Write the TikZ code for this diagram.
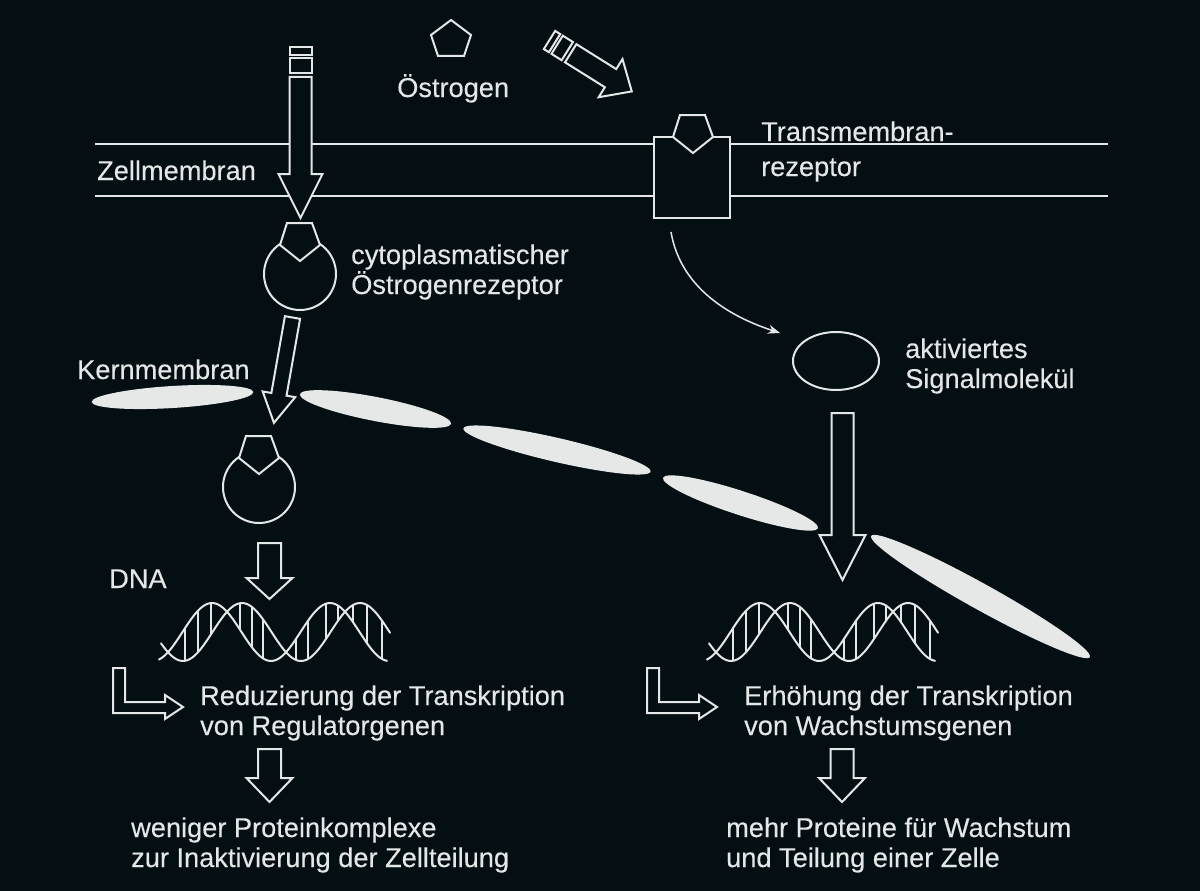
\documentclass[tikz,border=0pt]{standalone}
\usepackage{fontspec}
\setmainfont{Liberation Sans}[FakeBold=0.2]
\usetikzlibrary{shapes.geometric,arrows.meta}
\definecolor{ground}{HTML}{040F14}
\definecolor{ink}{HTML}{E4E7E7}
\definecolor{plate}{HTML}{E6E8E8}
\tikzset{
  outline/.style={draw=ink,line width=2pt,fill=ground,line join=miter},
  wire/.style={draw=ink,line width=2pt},
  label/.style={text=ink,inner sep=0pt,align=left,anchor=base west,font=\fontsize{27.2}{30}\selectfont},
  plateoval/.style={ellipse,fill=plate,inner sep=0pt},
  % length, half shaft width, half head width, head length
  pics/blockarrow/.style n args={4}{code={
    \path[outline] (0,-#2) -- (#1-#4,-#2) -- (#1-#4,-#3) -- (#1,0) -- (#1-#4,#3) -- (#1-#4,#2) -- (0,#2) -- cycle;
  }},
  % as above, plus the stops of two detached bands and the shaft's start
  pics/bandedarrow/.style n args={8}{code={
    \path[outline] (0,-#2) rectangle (#5,#2);
    \path[outline] (#6,-#2) rectangle (#7,#2);
    \path[outline] (#8,-#2) -- (#1-#4,-#2) -- (#1-#4,-#3) -- (#1,0) -- (#1-#4,#3) -- (#1-#4,#2) -- (#8,#2) -- cycle;
  }},
  pics/bentarrow/.style={code={
    \path[outline] (113,668) -- (125,668) -- (125,702) -- (165,702) -- (165,695) -- (183,707) -- (165,719) -- (165,713) -- (113,713) -- cycle;
  }},
  pics/receptorhead/.style={code={
    \path[outline] (-13,-38) -- (12,-38) -- (20,-16) -- (0,0) -- (-20,-16) -- cycle;
  }},
  pics/helix/.style={code={
    \draw[wire,line cap=round] plot[samples=90,domain=159:387] (\x,{632-29*cos(3.05*(\x-212))});
    \draw[wire,line cap=round] plot[samples=90,domain=161:390] (\x,{632-29*cos(3.05*(\x-242))});
    \foreach \b in {185,198,211,240,252,263,296,308,326,338,353,367,382}{
      \pgfmathsetmacro\ya{632-29*cos(3.05*(\b-212))}
      \pgfmathsetmacro\yb{632-29*cos(3.05*(\b-242))}
      \draw[ink,line width=1.8pt] (\b,\ya) -- (\b,\yb);
    }
  }},
}
\begin{document}
\begin{tikzpicture}[x=1pt,y=-1pt]
  \useasboundingbox[fill=ground] (0,0) rectangle (1200,891);

  % cell membrane and transmembrane receptor
  \coordinate (upperleft) at (95,144);
  \coordinate (lowerleft) at (95,196);
  \coordinate (upperright) at (1108,144);
  \coordinate (lowerright) at (1108,196);
  \draw[wire] (upperleft) -- (upperright);
  \draw[wire] (lowerleft) -- (lowerright);
  \node[outline,rectangle,inner sep=0pt,minimum width=76pt,minimum height=81pt] (membranebox) at (692,177.5) {};
  \pic at (693,153) {receptorhead};

  % oestrogen ligand
  \path[outline] (451,20) -- (471,35) -- (464,56) -- (438,56) -- (431,35) -- cycle;

  % incoming arrows
  \pic[rotate=-90] at (300.5,47) {bandedarrow={171}{11}{22}{44}{8}{11}{26}{30}};
  \pic[rotate=-32] at (549.5,40) {bandedarrow={97}{10.7}{22.5}{25}{6}{9}{21}{25}};

  % cytoplasmic receptor
  \node[outline,circle,inner sep=0pt,minimum size=72pt] (cytoreceptor) at (300,274) {};
  \pic at (300,261) {receptorhead};

  % nuclear membrane segments
  \node[plateoval,minimum width=162pt,minimum height=22pt,rotate=3.5] (kern1) at (172.5,397) {};
  \node[plateoval,minimum width=154pt,minimum height=24pt,rotate=-11] (kern2) at (375.5,409) {};
  \node[plateoval,minimum width=192pt,minimum height=24pt,rotate=-13] (kern3) at (557,450) {};
  \node[plateoval,minimum width=163pt,minimum height=24pt,rotate=-18] (kern4) at (740.5,503) {};
  \node[plateoval,minimum width=250pt,minimum height=26pt,rotate=-29] (kern5) at (980.5,596.5) {};

  % arrow into the nucleus and receptor inside it
  \pic[rotate=-100] at (292.5,317.5) {blockarrow={107}{7.7}{16.5}{29}};
  \node[outline,circle,inner sep=0pt,minimum size=72pt] (nuclearreceptor) at (259,487) {};
  \pic at (259,474) {receptorhead};

  % signalling branch
  \coordinate (curvestart) at (671,232);
  \coordinate (curveend) at (780,333);
  \draw[ink,line width=1.5pt,-{Stealth[length=12pt,width=9pt]}] (curvestart) .. controls (680,285) and (725,315) .. (curveend);
  \node[outline,ellipse,inner sep=0pt,minimum width=86pt,minimum height=58pt] (signal) at (836,361) {};
  \pic[rotate=-90] at (842.5,413) {blockarrow={167}{11}{23}{45}};

  % DNA and the arrows around it
  \pic[rotate=-90] at (269.5,543) {blockarrow={56}{11.5}{23}{21}};
  \pic at (0,0) {helix};
  \pic at (548,0) {helix};
  \pic at (0,0) {bentarrow};
  \pic at (534,0) {bentarrow};
  \pic[rotate=-90] at (269.5,749) {blockarrow={53}{11.5}{23}{24}};
  \pic[rotate=-90] at (842,749) {blockarrow={53}{11.5}{23}{24}};

  % labels
  \node[label] (oestrogen) at (397,97) {Östrogen};
  \node[label] (zellmembran) at (97,180) {Zellmembran};
  \node[label] (transmembran) at (761,176) {Transmembran-\\[5pt]rezeptor};
  \node[label] (cytolabel) at (351,294) {cytoplasmatischer\\Östrogenrezeptor};
  \node[label] (kernmembran) at (77,379) {Kernmembran};
  \node[label] (signallabel) at (905,388) {aktiviertes\\Signalmolekül};
  \node[label] (dna) at (109,588) {DNA};
  \node[label] (reduction) at (200,735) {Reduzierung der Transkription\\von Regulatorgenen};
  \node[label] (increase) at (744,735) {Erhöhung der Transkription\\von Wachstumsgenen};
  \node[label] (fewer) at (131,867) {weniger Proteinkomplexe\\zur Inaktivierung der Zellteilung};
  \node[label] (more) at (726,867) {mehr Proteine für Wachstum\\und Teilung einer Zelle};
\end{tikzpicture}
\end{document}
